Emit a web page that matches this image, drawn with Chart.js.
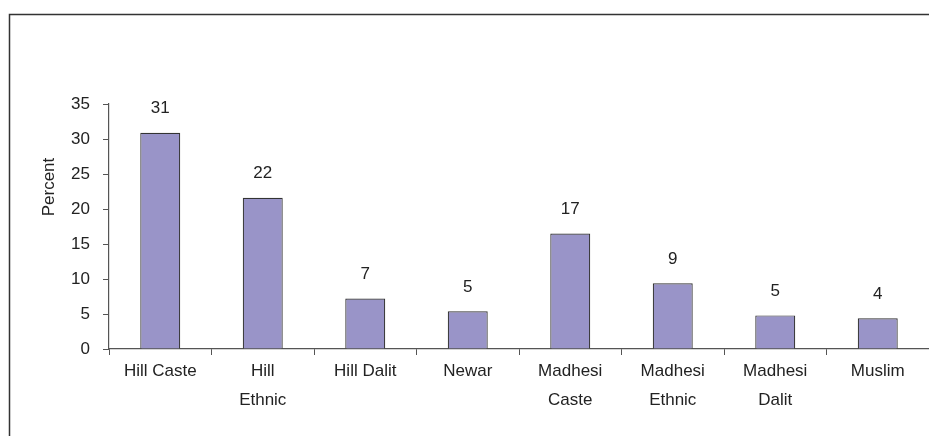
<!DOCTYPE html>
<html>
<head>
<meta charset="utf-8">
<script src="https://cdn.jsdelivr.net/npm/chart.js@4/dist/chart.umd.min.js"></script>
<style>
  html, body { margin: 0; padding: 0; background: #fff; }
  #wrap { width: 929px; height: 436px; position: relative; }
</style>
</head>
<body>
<div id="wrap"><canvas id="groupChart"></canvas></div>
<script>
// Caste / ethnic group shares, percent
const groups = [
  'Hill Caste', ['Hill', 'Ethnic'], 'Hill Dalit', 'Newar',
  ['Madhesi', 'Caste'], ['Madhesi', 'Ethnic'], ['Madhesi', 'Dalit'], 'Muslim'
];
const percents = [30.9, 21.6, 7.2, 5.4, 16.5, 9.4, 4.8, 4.4];
const yTicks = [0, 5, 10, 15, 20, 25, 30, 35];

const FONT = "'Liberation Sans', Arial, sans-serif";
const SIZE = 17;
const INK = '#222';

// outer box + rotated axis caption
const framePlugin = {
  id: 'frame',
  afterDraw(chart) {
    const ctx = chart.ctx;
    ctx.save();
    ctx.strokeStyle = '#333';
    ctx.lineWidth = 1.5;
    ctx.strokeRect(9.5, 14.5, 1000, 600);
    ctx.translate(49, 187);
    ctx.rotate(-Math.PI / 2);
    ctx.fillStyle = INK;
    ctx.font = SIZE + 'px ' + FONT;
    ctx.textAlign = 'center';
    ctx.textBaseline = 'middle';
    ctx.fillText('Percent', 0, 0);
    ctx.restore();
  }
};

// value labels above each bar
const valueLabels = {
  id: 'valueLabels',
  afterDatasetsDraw(chart) {
    const ctx = chart.ctx;
    const meta = chart.getDatasetMeta(0);
    ctx.save();
    ctx.fillStyle = INK;
    ctx.font = SIZE + 'px ' + FONT;
    ctx.textAlign = 'center';
    ctx.textBaseline = 'middle';
    meta.data.forEach((bar, i) => {
      ctx.fillText(String(Math.round(percents[i])), bar.x, bar.y - 24);
    });
    ctx.restore();
  }
};

new Chart(document.getElementById('groupChart').getContext('2d'), {
  type: 'bar',
  data: {
    labels: groups,
    datasets: [{
      data: percents,
      backgroundColor: '#9994c8',
      borderColor: '#333',
      borderWidth: 1.2,
      borderSkipped: 'bottom',
      categoryPercentage: 1,
      barPercentage: 0.39,
    }],
  },
  options: {
    responsive: true, maintainAspectRatio: false, animation: false,
    layout: { padding: { top: 104, left: 0, right: 0, bottom: 0 } },
    plugins: { legend: { display: false }, tooltip: { enabled: false } },
    scales: {
      x: {
        afterFit: (s) => { s.height = 87; },
        grid: { offset: true, drawOnChartArea: false, drawTicks: true, tickLength: 6, color: '#555' },
        border: { color: '#555', width: 1.2 },
        ticks: { color: INK, font: { family: FONT, size: SIZE, lineHeight: 1.75 }, padding: 1, maxRotation: 0, autoSkip: false },
      },
      y: {
        min: 0, max: 35,
        afterFit: (s) => { s.width = 109; },
        afterBuildTicks: (s) => { s.ticks = yTicks.map((v) => ({ value: v })); },
        grid: { drawOnChartArea: false, drawTicks: true, tickLength: 6, color: '#555' },
        border: { color: '#555', width: 1.2 },
        ticks: { color: INK, font: { family: FONT, size: SIZE }, padding: 13 },
      },
    },
  },
  plugins: [framePlugin, valueLabels],
});
</script>
</body>
</html>
